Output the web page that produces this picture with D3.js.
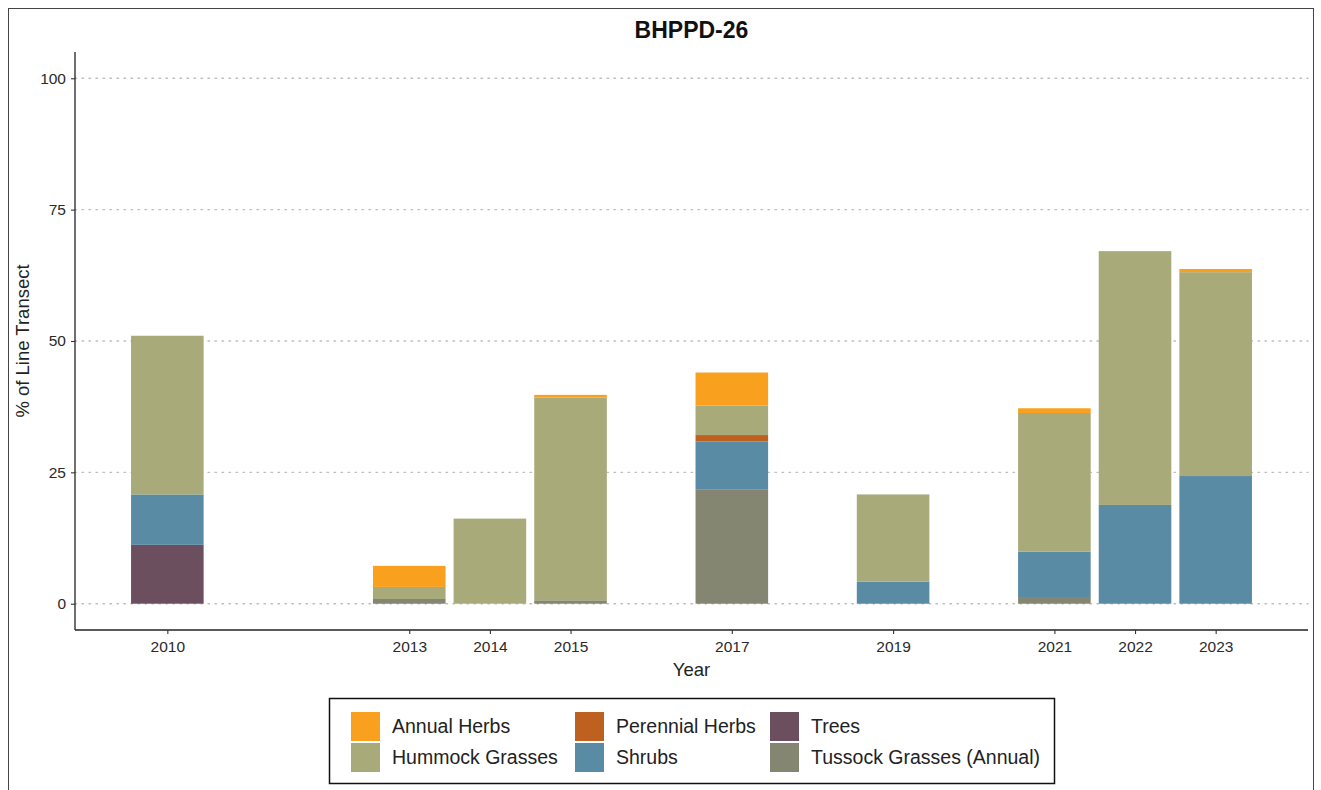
<!DOCTYPE html>
<html>
<head>
<meta charset="utf-8">
<script src="https://cdn.jsdelivr.net/npm/d3@7"></script>
<style>
  html, body { margin: 0; padding: 0; background: #fff; }
  svg { display: block; font-family: "Liberation Sans", Arial, sans-serif; }
</style>
</head>
<body>
<svg id="chart" width="1321" height="790"></svg>
<script>
// ---------- data ----------
const years = [2010, 2013, 2014, 2015, 2017, 2019, 2021, 2022, 2023];
const categories = ["Annual Herbs", "Hummock Grasses", "Perennial Herbs", "Shrubs", "Trees", "Tussock Grasses (Annual)"];
const colors = ["#F9A11E", "#A9AA79", "#BE601F", "#5A8BA4", "#6C4F5F", "#848671"];
// values per year (same order as years)
const annualHerbs    = [0,    4.0, 0,    0.5,  6.3, 0,    0.9,  0,    0.6];
const hummockGrasses = [30.2, 2.3, 16.2, 38.6, 5.6, 16.6, 26.4, 48.3, 38.8];
const perennialHerbs = [0,    0,   0,    0,    1.2, 0,    0,    0,    0];
const shrubs         = [9.6,  0,   0,    0,    9.1, 4.2,  8.8,  18.8, 24.3];
const trees          = [11.2, 0,   0,    0,    0,   0,    0,    0,    0];
const tussockGrasses = [0,    0.9, 0,    0.65, 21.8, 0,   1.1,  0,    0];
const yTicks = [0, 25, 50, 75, 100];
const titleText = "BHPPD-26";
const xTitle = "Year";
const yTitle = "% of Line Transect";

// ---------- build table ----------
const seriesVals = [annualHerbs, hummockGrasses, perennialHerbs, shrubs, trees, tussockGrasses];
const table = years.map((yr, i) => {
  const row = { year: yr };
  categories.forEach((c, k) => row[c] = seriesVals[k][i]);
  return row;
});
// ggplot stacking: last level at bottom
const stackKeys = categories.slice().reverse();
const stacked = d3.stack().keys(stackKeys)(table);
const color = d3.scaleOrdinal().domain(categories).range(colors);

// ---------- layout ----------
const svg = d3.select("#chart");
const panel = { left: 75, right: 1308, top: 52, bottom: 630 };
const x = d3.scaleLinear().domain([2008.855, 2024.145]).range([panel.left, panel.right]);
const y = d3.scaleLinear().domain([-5, 105]).range([panel.bottom, panel.top]);
const barW = x(2010.9) - x(2010);

// outer border
svg.append("rect").attr("x", 8.5).attr("y", 8.5).attr("width", 1305).attr("height", 800)
  .attr("fill", "none").attr("stroke", "#444").attr("stroke-width", 1);

// gridlines
svg.append("g").selectAll("line").data(yTicks).join("line")
  .attr("x1", panel.left).attr("x2", panel.right)
  .attr("y1", d => y(d)).attr("y2", d => y(d))
  .attr("stroke", "#bdbdbd").attr("stroke-width", 1.4)
  .attr("stroke-dasharray", "1.5,5.5").attr("stroke-linecap", "round");

// bars
svg.append("g").selectAll("g").data(stacked).join("g")
  .attr("fill", d => color(d.key))
  .selectAll("rect").data(d => d).join("rect")
  .attr("x", d => x(d.data.year) - barW / 2)
  .attr("width", barW)
  .attr("y", d => y(d[1]))
  .attr("height", d => Math.max(0, y(d[0]) - y(d[1])));

// axes
const yAxis = svg.append("g").attr("transform", `translate(${panel.left},0)`)
  .call(d3.axisLeft(y).tickValues(yTicks).tickSize(4).tickPadding(5));
const xAxis = svg.append("g").attr("transform", `translate(0,${panel.bottom})`)
  .call(d3.axisBottom(x).tickValues(years).tickFormat(d3.format("d")).tickSize(4).tickPadding(7));
[yAxis, xAxis].forEach(a => {
  a.select(".domain").attr("stroke", "#222").attr("stroke-width", 1.3);
  a.selectAll(".tick line").attr("stroke", "#333").attr("stroke-width", 1.1);
  a.selectAll(".tick text").attr("fill", "#2a2a2a").attr("font-size", 15.5)
    .attr("font-family", "'Liberation Sans', Arial, sans-serif");
});
yAxis.select(".domain").attr("d", `M0,${panel.top}V${panel.bottom}`);
xAxis.select(".domain").attr("d", `M${panel.left},0H${panel.right}`);

// title
svg.append("text").attr("x", (panel.left + panel.right) / 2).attr("y", 38)
  .attr("text-anchor", "middle").attr("font-size", 23).attr("font-weight", "bold")
  .attr("fill", "#111").text(titleText);

// axis titles
svg.append("text").attr("x", (panel.left + panel.right) / 2).attr("y", 676)
  .attr("text-anchor", "middle").attr("font-size", 18.5).attr("fill", "#222").text(xTitle);
svg.append("text").attr("transform", `translate(29,${(panel.top + panel.bottom) / 2}) rotate(-90)`)
  .attr("text-anchor", "middle").attr("font-size", 18.5).attr("fill", "#222").text(yTitle);

// legend
const lg = svg.append("g");
lg.append("rect").attr("x", 329.5).attr("y", 698.5).attr("width", 725).attr("height", 85)
  .attr("fill", "#fff").attr("stroke", "#111").attr("stroke-width", 1.5);
const colX = [351, 575, 770];
const rowY = [712, 743];
const legendOrder = [
  ["Annual Herbs", 0, 0], ["Perennial Herbs", 1, 0], ["Trees", 2, 0],
  ["Hummock Grasses", 0, 1], ["Shrubs", 1, 1], ["Tussock Grasses (Annual)", 2, 1]
];
legendOrder.forEach(([name, c, r]) => {
  lg.append("rect").attr("x", colX[c]).attr("y", rowY[r]).attr("width", 29).attr("height", 29)
    .attr("fill", color(name));
  lg.append("text").attr("x", colX[c] + 41).attr("y", rowY[r] + 21)
    .attr("font-size", 19.5).attr("fill", "#222").text(name);
});
</script>
</body>
</html>
